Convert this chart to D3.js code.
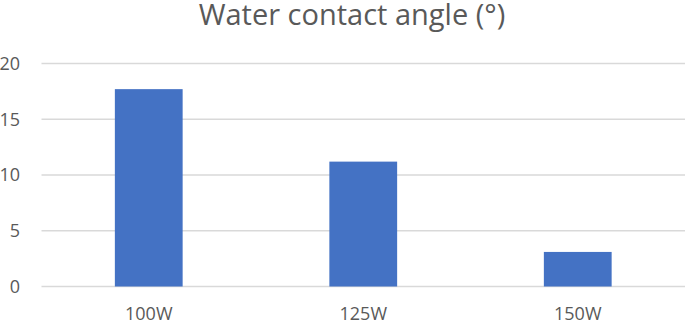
<!DOCTYPE html>
<html>
<head>
<meta charset="utf-8">
<script src="https://cdn.jsdelivr.net/npm/d3@7"></script>
<style>
  body { margin: 0; background: #fff; }
  svg text { font-family: "Open Sans", "Liberation Sans", sans-serif; fill: #595959; }
</style>
</head>
<body>
<div class="chart"></div>
<script>
const categories = ["100W", "125W", "150W"];
const values = [17.7, 11.2, 3.1];
const yTicks = [0, 5, 10, 15, 20];
const title = "Water contact angle (°)";

const width = 685, height = 322;
const margin = {top: 63.5, right: 0, bottom: 35.5, left: 41.5};
const innerW = width - margin.left - margin.right;
const innerH = height - margin.top - margin.bottom;

const svg = d3.select(".chart").append("svg")
    .attr("width", width)
    .attr("height", height);

svg.append("text")
    .attr("x", 352)
    .attr("y", 25)
    .attr("text-anchor", "middle")
    .style("font-size", "29px")
    .text(title);

const g = svg.append("g").attr("transform", "translate(" + margin.left + "," + margin.top + ")");

const x = d3.scaleBand().domain(categories).range([0, innerW]).paddingInner(0.684).paddingOuter(0.342);
const y = d3.scaleLinear().domain([0, 20]).range([innerH, 0]);

// gridlines
g.append("g")
    .selectAll("line")
    .data(yTicks)
    .join("line")
    .attr("x1", 0)
    .attr("x2", innerW)
    .attr("y1", d => y(d))
    .attr("y2", d => y(d))
    .attr("stroke", "#d9d9d9")
    .attr("stroke-width", 1.3);

// bars
g.append("g")
    .selectAll("rect")
    .data(values)
    .join("rect")
    .attr("x", (d, i) => x(categories[i]))
    .attr("width", x.bandwidth())
    .attr("y", d => y(d))
    .attr("height", d => y(0) - y(d))
    .attr("fill", "#4472c4");

// y axis
const yAxis = g.append("g")
    .call(d3.axisLeft(y).tickValues(yTicks).tickSize(0).tickPadding(21.5));
yAxis.select(".domain").remove();
yAxis.selectAll("text").style("font-size", "18px").attr("fill", "#595959");

// x axis
const xAxis = g.append("g")
    .attr("transform", "translate(0," + innerH + ")")
    .call(d3.axisBottom(x).tickSize(0).tickPadding(21));
xAxis.select(".domain").remove();
xAxis.selectAll("text").style("font-size", "18px").attr("fill", "#595959");
</script>
</body>
</html>
